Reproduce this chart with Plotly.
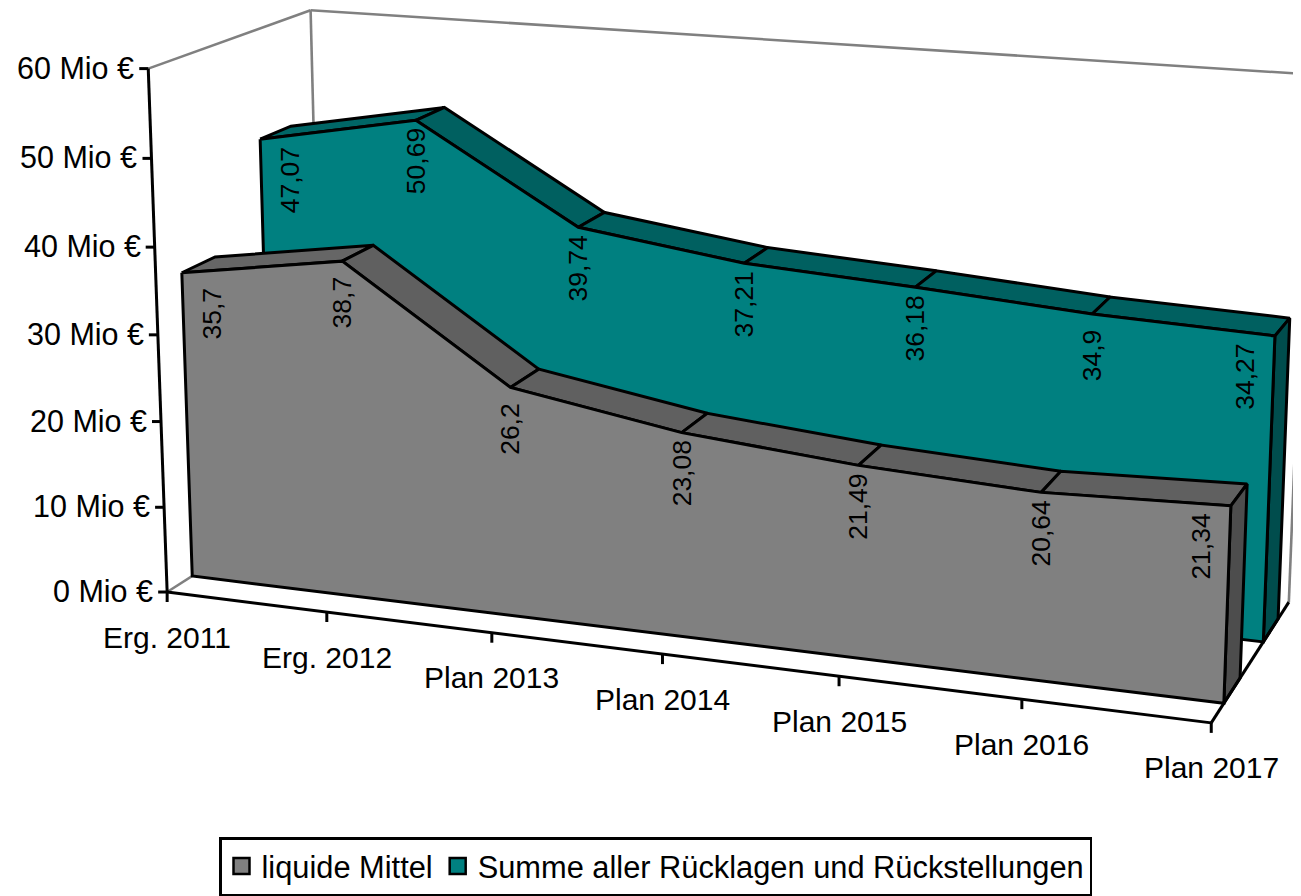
import plotly.graph_objects as go

categories = ["Erg. 2011", "Erg. 2012", "Plan 2013", "Plan 2014", "Plan 2015", "Plan 2016", "Plan 2017"]
liquide = [35.7, 38.7, 26.2, 23.08, 21.49, 20.64, 21.34]
summe = [47.07, 50.69, 39.74, 37.21, 36.18, 34.9, 34.27]
liquide_lbl = ["35,7", "38,7", "26,2", "23,08", "21,49", "20,64", "21,34"]
summe_lbl = ["47,07", "50,69", "39,74", "37,21", "36,18", "34,9", "34,27"]
y_ticks = [0, 10, 20, 30, 40, 50, 60]

# perspective projection (category, value, depth) -> page pixels
P = [154.3557, -0.3992207, 36.87585, 167.1467,
     10.07483, -8.762703, -11.10541, 592.023,
     -0.01623251, -0.0005675798, 0.0177445]
def project(i, val, z):
    d = P[8]*i + P[9]*val + P[10]*z + 1
    return (P[0]*i + P[1]*val + P[2]*z + P[3])/d, (P[4]*i + P[5]*val + P[6]*z + P[7])/d

fig = go.Figure()
BLACK = "#000"
LW = 3
def poly(pts, fill, w=LW):
    xs = [q[0] for q in pts]+[pts[0][0]]; ys = [q[1] for q in pts]+[pts[0][1]]
    fig.add_trace(go.Scatter(x=xs, y=ys, mode="lines", fill="toself", fillcolor=fill, line=dict(color=BLACK, width=w), hoverinfo="skip", showlegend=False))
def seg(a, b, color=BLACK, w=LW):
    fig.add_trace(go.Scatter(x=[a[0], b[0]], y=[a[1], b[1]], mode="lines", line=dict(color=color, width=w), hoverinfo="skip", showlegend=False))

GR = "#808080"
Zb = 5
seg(project(0, 60, 0), project(0, 60, Zb), GR, 2.6)
seg(project(0, 60, Zb), project(6, 60, Zb), GR, 2.6)
seg(project(0, 60, Zb), project(0, 0, Zb), GR, 2.6)
seg(project(6, 60, Zb), project(6, 0, Zb), GR, 2.6)
seg(project(0, 0, 0), project(0, 0, Zb), GR, 2.6)

def area(vals, z0, z1, front, top, top2, side):
    for i in range(6):
        poly([project(i, vals[i], z0), project(i+1, vals[i+1], z0), project(i+1, vals[i+1], z1), project(i, vals[i], z1)], top if i == 0 else top2)
    poly([project(6, vals[6], z0), project(6, vals[6], z1), project(6, 0, z1), project(6, 0, z0)], side)
    pts = [project(i, vals[i], z0) for i in range(7)]+[project(6, 0, z0), project(0, 0, z0)]
    poly(pts, front)
area(summe, 3.25, 4.25, "#008080", "#006666", "#006060", "#004d4d")
area(liquide, .75, 1.75, "#808080", "#666666", "#606060", "#4d4d4d")

seg(project(0, 0, 0), project(6, 0, 0))
seg(project(6, 0, 0), project(6, 0, Zb))
seg(project(0, 0, 0), project(0, 60, 0))
ann = []
for t in y_ticks:
    q = project(0, t, 0)
    seg((q[0]-9, q[1]), q)
    ann.append(dict(x=q[0]-12, y=q[1]-1, text=f"{t} Mio €", xanchor="right", yanchor="middle", showarrow=False, font=dict(size=30.5)))
for i, c in enumerate(categories):
    q = project(i, 0, 0)
    seg(q, (q[0], q[1]+10))
    ann.append(dict(x=q[0], y=q[1]+45, text=c, xanchor="center", yanchor="middle", showarrow=False, font=dict(size=30)))
def labels(vals, lbl, z):
    for i in range(7):
        q = project(i, vals[i], z)
        dx = 30 if i == 0 else (-30 if i == 6 else 0)
        ann.append(dict(x=q[0]+dx, y=q[1]+41, text=lbl[i], textangle=-90, xanchor="center", yanchor="middle", showarrow=False, font=dict(size=26.5)))
labels(summe, summe_lbl, 3.25)
labels(liquide, liquide_lbl, .75)

for name, col in (("liquide Mittel", "#808080"), ("Summe aller Rücklagen und Rückstellungen", "#008080")):
    fig.add_trace(go.Scatter(x=[None], y=[None], mode="markers", name=name, marker=dict(symbol="square", size=16, color=col, line=dict(color=BLACK, width=2.5))))

# the page body has an 8 px margin, so the plot starts at (8, 8)
fig.update_layout(width=1293, height=888, margin=dict(l=0, r=0, t=0, b=0), paper_bgcolor="white", plot_bgcolor="white",
    font=dict(family="Liberation Sans", color="#000"), annotations=ann,
    xaxis=dict(range=[8, 1301], visible=False, fixedrange=True), yaxis=dict(range=[896, 8], visible=False, fixedrange=True),
    legend=dict(orientation="h", x=(219-8)/1293, xanchor="left", y=1-(837-8)/888, yanchor="top", bgcolor="white", bordercolor=BLACK, borderwidth=2.5, font=dict(size=30.8), itemwidth=30))
fig.write_html("out.html", config=dict(displayModeBar=False))
